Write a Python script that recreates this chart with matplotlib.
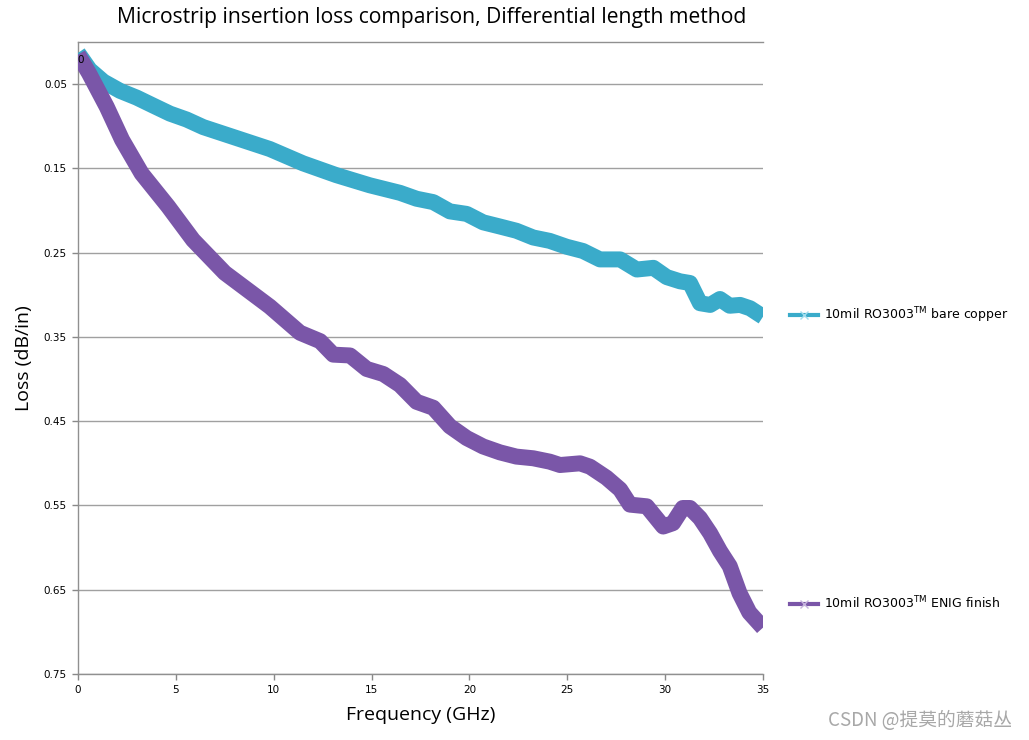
import matplotlib
matplotlib.use("Agg")
import matplotlib.pyplot as plt
from matplotlib.lines import Line2D

# ---- data ----
copper_x = [0, 0.6, 1.3, 2.15, 3.0, 3.8, 4.7, 5.55, 6.4, 8.1, 9.8, 11.5, 13.2, 14.9,
            16.45, 17.3, 18.15, 19.0, 19.86, 20.7, 21.56, 22.4, 23.26, 24.1, 24.97,
            25.8, 26.67, 27.7, 28.55, 29.4, 30.08, 30.76, 31.27, 31.78, 32.3, 32.8,
            33.3, 33.83, 34.34, 35]
copper_y = [0.013, 0.033, 0.047, 0.058, 0.066, 0.075, 0.085, 0.092, 0.101, 0.114,
            0.127, 0.144, 0.158, 0.170, 0.179, 0.186, 0.190, 0.201, 0.204, 0.214,
            0.219, 0.224, 0.232, 0.236, 0.243, 0.248, 0.258, 0.258, 0.270, 0.268,
            0.279, 0.284, 0.286, 0.310, 0.312, 0.305, 0.313, 0.312, 0.316, 0.326]

enig_x = [0, 0.56, 1.47, 2.25, 3.25, 4.6, 5.88, 7.5, 9.8, 11.34, 12.37, 13.04, 13.9,
          14.75, 15.6, 16.45, 17.3, 18.15, 19.0, 19.86, 20.7, 21.56, 22.4, 23.26,
          24.1, 24.63, 25.65, 26.16, 27.0, 27.7, 28.2, 29.06, 29.9, 30.4, 30.9,
          31.27, 31.78, 32.3, 32.8, 33.3, 33.8, 34.3, 35]
enig_y = [0.015, 0.037, 0.077, 0.116, 0.156, 0.195, 0.235, 0.274, 0.314, 0.345,
          0.355, 0.371, 0.372, 0.388, 0.394, 0.407, 0.427, 0.434, 0.456, 0.470,
          0.480, 0.487, 0.492, 0.494, 0.498, 0.502, 0.500, 0.504, 0.517, 0.531,
          0.549, 0.551, 0.575, 0.571, 0.553, 0.553, 0.565, 0.583, 0.604, 0.622,
          0.654, 0.677, 0.695]

x_ticks = [0, 5, 10, 15, 20, 25, 30, 35]
y_ticks = [0.05, 0.15, 0.25, 0.35, 0.45, 0.55, 0.65, 0.75]
y_tick_labels = ["0.05", "0.15", "0.25", "0.35", "0.45", "0.55", "0.65", "0.75"]

label_copper = "10mil RO3003$^{\\mathrm{TM}}$ bare copper"
label_enig = "10mil RO3003$^{\\mathrm{TM}}$ ENIG finish"

c_copper = "#3AABCA"
c_enig = "#7A56A8"
grid_c = "#A0A0A0"

fig = plt.figure(figsize=(10.29, 7.40), dpi=100)
ax = fig.add_axes([78 / 1029, 1 - 674 / 740, (763 - 78) / 1029, (674 - 42) / 740])

ax.plot(copper_x, copper_y, color=c_copper, lw=11.5, solid_joinstyle="round",
        solid_capstyle="butt", zorder=3)
ax.plot(enig_x, enig_y, color=c_enig, lw=11.5, solid_joinstyle="round",
        solid_capstyle="butt", zorder=3)

ax.set_xlim(0, 35)
ax.set_ylim(0.75, 0)
ax.set_xticks(x_ticks)
ax.set_xticklabels([str(t) for t in x_ticks])
ax.set_yticks(y_ticks)
ax.set_yticklabels(y_tick_labels)
ax.yaxis.grid(True, color=grid_c, lw=1)
ax.set_axisbelow(True)
ax.tick_params(axis="both", labelsize=7.5, color="#888888", length=4, width=1,
               direction="out", pad=4)
for s in ["left", "bottom", "top"]:
    ax.spines[s].set_color("#909090")
    ax.spines[s].set_linewidth(1)
ax.spines["right"].set_visible(False)

ax.text(-0.05, 0.021, "0", fontsize=7.5, ha="left", va="center", zorder=5)

ax.set_xlabel("Frequency (GHz)", fontsize=14, family="Open Sans", labelpad=8)
ax.set_ylabel("Loss (dB/in)", fontsize=14, family="Open Sans", labelpad=8)

fig.text(432 / 1029, 1 - 17 / 740,
         "Microstrip insertion loss comparison, Differential length method",
         fontsize=15.2, family="Open Sans", ha="center", va="center")

# legend entries placed beside each series end
h1 = Line2D([], [], color=c_copper, lw=3, marker="x", markersize=6,
            markeredgecolor="#9FDDEE")
h2 = Line2D([], [], color=c_enig, lw=3, marker="x", markersize=6,
            markeredgecolor="#C5B2DD")
leg1 = fig.legend([h1], [label_copper], loc="center left",
                  bbox_to_anchor=(785 / 1029, 1 - 315 / 740), frameon=False,
                  fontsize=9, handlelength=2.2, handletextpad=0.5, borderaxespad=0)
leg2 = fig.legend([h2], [label_enig], loc="center left",
                  bbox_to_anchor=(785 / 1029, 1 - 603 / 740), frameon=False,
                  fontsize=9, handlelength=2.2, handletextpad=0.5, borderaxespad=0)

fig.text(1012 / 1029, 1 - 720 / 740, "CSDN @提莫的蘑菇丛", fontsize=13.5,
         family=["Noto Sans CJK SC", "DejaVu Sans"], color="#A8A8A8",
         ha="right", va="center")

fig.savefig("out.png", dpi=100)
